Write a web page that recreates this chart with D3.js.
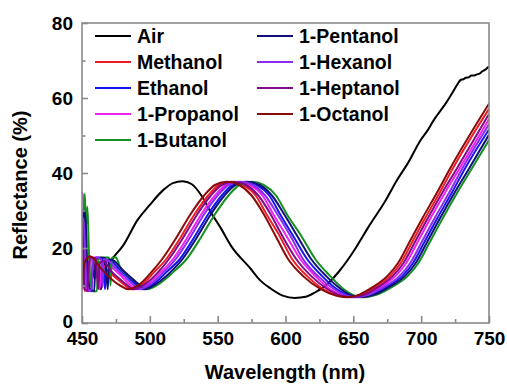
<!DOCTYPE html>
<html>
<head>
<meta charset="utf-8">
<script src="https://d3js.org/d3.v7.min.js"></script>
<style>
  body { margin: 0; background: #fff; }
  text { font-family: "Liberation Sans", Arial, sans-serif; font-weight: bold; fill: #000; }
  .line { fill: none; stroke-width: 2px; stroke-linejoin: round; }
</style>
</head>
<body>
<div id="chart"></div>
<script>
// x ticks / y ticks
const xTicks = [450, 500, 550, 600, 650, 700, 750];
const xMinor = [475, 525, 575, 625, 675, 725];
const yTicks = [0, 20, 40, 60, 80];
const yMinor = [10, 30, 50, 70];

// [wavelength nm, reflectance %]
const air = [[450,12],[453,16],[456,10],[460,15],[464,9],[467,17],[470,16],[473.6,17.7],[480,20.5],[491,27.5],[500,31.5],[510,35.5],[517,37.3],[524,37.8],[531,37],[538,34],[545,29.5],[552,25.5],[560,20.5],[574,14.6],[581,11.5],[589,9.2],[598,7.3],[607,6.7],[615,7],[622,8.2],[630,10.1],[640,14],[650,19],[662,26.1],[674,32.8],[682,38],[690,42.5],[700,49],[705,51.5],[710,54.5],[714,56.5],[718,58.5],[721,60.2],[724,62],[727,63.8],[729,64.8],[731,65],[733,65.4],[735,65.5],[737,66],[739,66],[741,66.3],[743,66.5],[745,67.1],[747,67.5],[749,68.1],[750,68.4]];

const octanol = [[450,9],[451,14],[453,17],[456,17.8],[459,17],[463,15],[468,13],[474,11],[479,9.8],[484,9],[493,10.5],[501,13.5],[509,17],[520,23],[530,29],[540,34],[548,36.8],[557,37.7],[566,36.8],[575,34],[584,29],[593,23],[602,17],[613,12.5],[626,9],[637,7.3],[645,6.9],[654,7.5],[664,9.5],[675,12.5],[683,16],[692,22],[701,28],[712,35],[721,41],[750,58.5]];
const methanol = [[450,24],[451,13],[452,8.5],[453,16],[455,17.5],[458,17.5],[460,12],[461,16.5],[464,16],[469,14],[475,12],[481,10.3],[486,9],[495,10.5],[503,13.5],[512,17],[523,23],[533,29],[543,34],[551,36.8],[560,37.7],[569,36.8],[578,34],[586,29],[596,23],[605,17],[616,12.5],[628,9],[639,7.3],[647,6.9],[656,7.5],[666,9.5],[677,12.5],[685,16],[694,22],[703,28],[714,35],[723,41],[750,57.1]];
const heptanol = [[450,27],[451,18],[452,9],[454,8.5],[455,16],[457,17.5],[460,17.3],[462,9],[463,16],[466,16.5],[471,14],[477,12],[483,10.2],[488,9],[497,10.5],[506,13.5],[514,17],[525,23],[535,29],[545,34],[553,36.8],[562,37.7],[571,36.8],[580,34],[589,29],[598,23],[608,17],[619,12.5],[631,9],[641,7.3],[649,6.9],[658,7.5],[668,9.5],[679,12.5],[687,16],[696,22],[705,28],[716,35],[726,41],[750,55.7]];
const propanol = [[450,35],[451,33],[452,20],[453,9],[455,8.5],[456,16],[459,17.5],[462,17.5],[463,9],[465,16.5],[468,16.5],[473,14.5],[479,12.5],[485,10.3],[490,9],[499,10.5],[508,13.5],[517,17],[528,23],[538,29],[548,34],[556,36.8],[565,37.7],[574,36.8],[583,34],[591,29],[601,23],[611,17],[622,12.5],[633,9],[643,7.3],[651,6.9],[660,7.5],[670,9.5],[681,12.5],[689,16],[698,22],[707,28],[718,35],[728,41],[750,54.3]];
const hexanol = [[450,14],[451,28],[452,22],[453,13],[455,8.5],[457,9],[458,17],[461,17.5],[464,17],[465,9.5],[466,17],[470,16.5],[475,14.5],[481,12.5],[487,10.5],[492,9],[501,10.5],[510,13.5],[519,17],[530,23],[540,29],[550,34],[558,36.8],[567,37.7],[576,36.8],[585,34],[594,29],[604,23],[613,17],[624,12.5],[636,9],[645,7.3],[652,6.9],[661,7.5],[672,9.5],[684,12.5],[692,16],[701,22],[710,28],[721,35],[730,41],[750,53]];
const ethanol = [[450,22],[451,31],[452,29],[453,18],[454,9],[457,8.5],[458,17],[462,17.5],[465,17.3],[467,9],[468,17],[472,16.5],[477,14.5],[483,12.5],[489,10.5],[494,9],[503,10.5],[512,13.5],[522,17],[533,23],[543,29],[553,34],[561,36.8],[570,37.7],[579,36.8],[588,34],[596,29],[606,23],[616,17],[627,12.5],[638,9],[647,7.3],[654,6.9],[663,7.5],[674,9.5],[686,12.5],[694,16],[703,22],[712,28],[723,35],[732,41],[750,51.6]];
const pentanol = [[450,12],[451,27],[452,30],[453,25],[454,14],[456,9],[459,8.5],[460,17],[464,17.5],[467,17.3],[469,9],[470,17],[474,16.5],[479,14.5],[485,12.5],[491,10.5],[496,9],[505,10.5],[515,13.5],[524,17],[535,23],[545,29],[555,34],[563,36.8],[572,37.7],[581,36.8],[590,34],[599,29],[609,23],[619,17],[630,12.5],[641,9],[649,7.3],[656,6.9],[665,7.5],[676,9.5],[688,12.5],[696,16],[705,22],[714,28],[725,35],[735,41],[750,50.2]];
const butanol = [[450,10],[451,22],[452,34.5],[453,26],[454,31],[455,20],[456,12],[458,8.5],[461,8.5],[462,17],[466,17.5],[470,17.5],[471,10],[472,17.5],[475,17.5],[478,15],[483,13],[488,11.5],[493,10],[498,9],[507,10.5],[517,13.5],[527,17],[538,23],[548,29],[558,34],[566,36.8],[575,37.7],[584,36.8],[593,34],[601,29],[612,23],[622,17],[633,12.5],[643,9],[651,7.3],[658,6.9],[667,7.5],[678,9.5],[690,12.5],[698,16],[707,22],[716,28],[727,35],[737,41],[750,48.8]];

const seriesNames = ['Air', 'Methanol', 'Ethanol', '1-Propanol', '1-Butanol', '1-Pentanol', '1-Hexanol', '1-Heptanol', '1-Octanol'];
const seriesData = [air, methanol, ethanol, propanol, butanol, pentanol, hexanol, heptanol, octanol];
const seriesColors = ['#000000', '#ee1c25', '#1515f0', '#f020f0', '#14901e', '#10107a', '#8a2cf0', '#800a88', '#8a0a0a'];

const svgWidth = 507, svgHeight = 386;
const margin = { top: 23, right: 18, bottom: 63, left: 82 };
const width = svgWidth - margin.left - margin.right;
const height = svgHeight - margin.top - margin.bottom;

const svg = d3.select('#chart').append('svg')
    .attr('width', svgWidth)
    .attr('height', svgHeight);
const g = svg.append('g').attr('transform', `translate(${margin.left},${margin.top})`);

const x = d3.scaleLinear().domain([450, 750]).range([0, width]);
const y = d3.scaleLinear().domain([0, 80]).range([height, 0]);

g.append('clipPath').attr('id', 'clip')
    .append('rect').attr('width', width).attr('height', height);

const line = d3.line()
    .x(d => x(d[0]))
    .y(d => y(d[1]))
    .curve(d3.curveMonotoneX);

seriesData.forEach((d, i) => {
    g.append('path')
        .datum(d)
        .attr('class', 'line')
        .attr('clip-path', 'url(#clip)')
        .attr('d', line)
        .style('stroke', seriesColors[i]);
});

// frame
g.append('rect')
    .attr('width', width).attr('height', height)
    .attr('fill', 'none').attr('stroke', '#8a8a8a').attr('stroke-width', 1.6);

const xAxis = g.append('g').attr('transform', `translate(0,${height})`)
    .call(d3.axisBottom(x).tickValues(xTicks).tickSizeInner(-7).tickSizeOuter(0).tickPadding(9));
const xMinorAxis = g.append('g').attr('transform', `translate(0,${height})`)
    .call(d3.axisBottom(x).tickValues(xMinor).tickSizeInner(-4).tickSizeOuter(0).tickFormat(''));
const yAxis = g.append('g')
    .call(d3.axisLeft(y).tickValues(yTicks).tickSizeInner(-6).tickSizeOuter(0).tickPadding(9));
const yMinorAxis = g.append('g')
    .call(d3.axisLeft(y).tickValues(yMinor).tickSizeInner(-3.5).tickSizeOuter(0).tickFormat(''));

[xAxis, xMinorAxis, yAxis, yMinorAxis].forEach(a => {
    a.select('.domain').remove();
    a.selectAll('.tick line').attr('stroke', '#8a8a8a').attr('stroke-width', 1.6);
    a.selectAll('.tick text').style('font-size', '19px').style('font-family', '"Liberation Sans", Arial, sans-serif').style('font-weight', 'bold').attr('fill', '#000');
});
// the "0" label sits a bit higher so it clears the "450" below it
yAxis.selectAll('.tick text').filter(d => d === 0).attr('dy', '0.25em');

svg.append('text')
    .attr('x', 285).attr('y', 379)
    .attr('text-anchor', 'middle')
    .style('font-size', '20px')
    .text('Wavelength (nm)');

svg.append('text')
    .attr('transform', 'translate(27,185) rotate(-90)')
    .attr('text-anchor', 'middle')
    .style('font-size', '20px')
    .text('Reflectance (%)');

// legend, two columns
const legendRows = [36, 62, 88, 114, 140];
const legendCols = [95, 257];
seriesNames.forEach((name, i) => {
    const col = i < 5 ? 0 : 1;
    const row = i < 5 ? i : i - 5;
    const lg = svg.append('g').attr('transform', `translate(${legendCols[col]},${legendRows[row]})`);
    lg.append('line').attr('x1', 0).attr('x2', 36).attr('y1', 0).attr('y2', 0)
        .attr('stroke', seriesColors[i]).attr('stroke-width', 2);
    lg.append('text').attr('x', 42).attr('y', 7).style('font-size', '19.5px').text(name);
});
</script>
</body>
</html>
